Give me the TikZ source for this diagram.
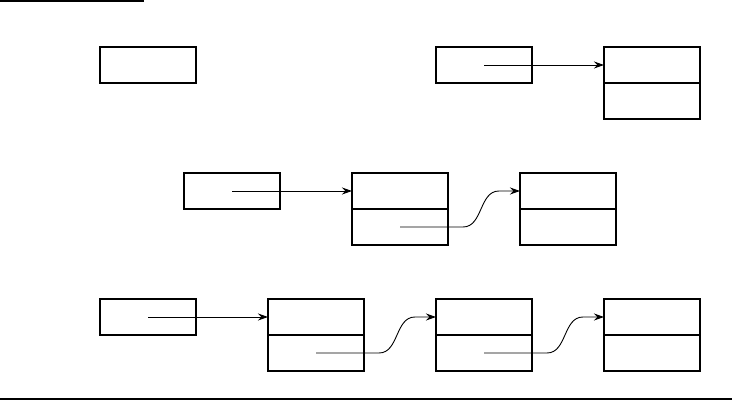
\documentclass[tikz,border=0pt]{standalone}
\usepackage{tikz}
\usetikzlibrary{positioning,arrows.meta,calc}

\begin{document}
\begin{tikzpicture}[
    x=1pt, y=-1pt,
    node distance=36pt and 72pt,
    cell/.style={draw, line width=1.2pt, minimum width=96pt, minimum height=36pt, inner sep=0pt, outer sep=0pt},
    arr/.style={-{Stealth[length=10pt, width=7pt]}, line width=0.9pt},
    rule/.style={line width=1.4pt}
]
\useasboundingbox (0,0) rectangle (732,401);

% row 1
\node[cell] (headA) at (148,65) {};
\node[cell, right=240pt of headA] (headB) {};
\node[cell, right=of headB] (itemBt) {};
\node[cell, below=0pt of itemBt] (itemBb) {};

% row 2
\node[cell] (headC) at (232,191) {};
\node[cell, right=of headC] (itemC1t) {};
\node[cell, below=0pt of itemC1t] (itemC1b) {};
\node[cell, right=of itemC1t] (itemC2t) {};
\node[cell, below=0pt of itemC2t] (itemC2b) {};

% row 3
\node[cell] (headD) at (148,317) {};
\node[cell, right=of headD] (itemD1t) {};
\node[cell, below=0pt of itemD1t] (itemD1b) {};
\node[cell, right=of itemD1t] (itemD2t) {};
\node[cell, below=0pt of itemD2t] (itemD2b) {};
\node[cell, right=of itemD2t] (itemD3t) {};
\node[cell, below=0pt of itemD3t] (itemD3b) {};

\draw[arr] (headB.center) -- (itemBt.west);
\draw[arr] (headC.center) -- (itemC1t.west);
\draw[arr] (headD.center) -- (itemD1t.west);

\draw[arr] (itemC1b.center) -- ++(63,0) to[out=0, in=180] ($(itemC2t.west)+(-21,0)$) -- (itemC2t.west);
\draw[arr] (itemD1b.center) -- ++(63,0) to[out=0, in=180] ($(itemD2t.west)+(-21,0)$) -- (itemD2t.west);
\draw[arr] (itemD2b.center) -- ++(63,0) to[out=0, in=180] ($(itemD3t.west)+(-21,0)$) -- (itemD3t.west);

% rules
\draw[rule] (0,1) -- (144,1);
\draw[rule] (0,399) -- (732,399);
\end{tikzpicture}
\end{document}
